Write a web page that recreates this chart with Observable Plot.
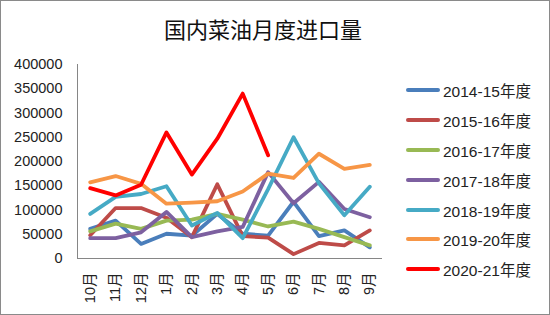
<!DOCTYPE html>
<html>
<head>
<meta charset="utf-8">
<script src="https://cdn.jsdelivr.net/npm/d3@7"></script>
<script src="https://cdn.jsdelivr.net/npm/@observablehq/plot@0.6"></script>
<style>
  html, body { margin: 0; padding: 0; background: #fff; }
  #wrap { position: relative; width: 550px; height: 315px; overflow: hidden; background: #fff; }
  #frame { position: absolute; left: 0; top: 0; width: 550px; height: 315px; box-sizing: border-box; border: 1px solid #8a8a8a; pointer-events: none; }
  #title { position: absolute; left: 0; top: 14px; width: 526px; text-align: center; font-family: "Noto Sans CJK SC", sans-serif; font-size: 22px; line-height: 28px; color: #111; }
  #legend { position: absolute; left: 406px; top: 75px; font-family: "Liberation Sans", "Noto Sans CJK SC", sans-serif; font-size: 15.5px; color: #222; }
  .row { display: flex; align-items: center; height: 29.9px; }
  .sw { width: 34px; height: 4px; border-radius: 2px; margin-right: 3px; }
  #chart { position: absolute; left: 0; top: 0; }
</style>
</head>
<body>
<div id="wrap">
  <div id="chart"></div>
  <div id="title"></div>
  <div id="legend"></div>
  <div id="frame"></div>
</div>
<script>
const titleText = "国内菜油月度进口量";
const months = ["10月","11月","12月","1月","2月","3月","4月","5月","6月","7月","8月","9月"];
const seriesNames = ["2014-15年度","2015-16年度","2016-17年度","2017-18年度","2018-19年度","2019-20年度","2020-21年度"];
const seriesColors = ["#4A7EBB","#BE4B48","#98B954","#7D60A0","#46AAC5","#F79646","#FF0000"];
const yTicks = [0,50000,100000,150000,200000,250000,300000,350000,400000];

const v2014_15 = [61000, 78000, 30000, 51000, 47000, 92000, 51000, 47000, 117000, 46000, 58000, 23000];
const v2015_16 = [48000, 104000, 104000, 84000, 44000, 153000, 46000, 43000, 9000, 32000, 27000, 58000];
const v2016_17 = [56000, 72000, 61000, 78000, 80000, 92000, 80000, 66000, 76000, 61000, 44000, 27000];
const v2017_18 = [42000, 42000, 54000, 96000, 44000, 56000, 65000, 178000, 114000, 158000, 102000, 85000];
const v2018_19 = [92000, 127000, 133000, 149000, 68000, 94000, 42000, 143000, 250000, 155000, 89000, 148000];
const v2019_20 = [157000, 170000, 154000, 113000, 115000, 118000, 138000, 175000, 166000, 216000, 185000, 193000];
const v2020_21 = [145000, 130000, 152000, 260000, 173000, 247000, 340000, 213000];

const allValues = [v2014_15, v2015_16, v2016_17, v2017_18, v2018_19, v2019_20, v2020_21];
const data = [];
allValues.forEach((vals, s) => {
  vals.forEach((v, i) => data.push({series: seriesNames[s], i, value: v}));
});

document.getElementById("title").textContent = titleText;

const axisColor = "#868686";
const font = "'Liberation Sans', 'Noto Sans CJK SC', sans-serif";

const chart = Plot.plot({
  width: 550,
  height: 315,
  marginLeft: 77,
  marginRight: 168,
  marginTop: 64,
  marginBottom: 57,
  style: {fontFamily: font, fontSize: "14.5px", color: "#222", background: "transparent", overflow: "visible"},
  x: {domain: [-0.5, months.length - 0.5]},
  y: {domain: [yTicks[0], yTicks[yTicks.length - 1]]},
  color: {domain: seriesNames, range: seriesColors},
  marks: [
    Plot.ruleY([yTicks[0]], {stroke: axisColor, strokeWidth: 1}),
    Plot.ruleX([-0.5], {stroke: axisColor, strokeWidth: 1}),
    Plot.line(data, {x: "i", y: "value", z: "series", stroke: "series", strokeWidth: 3.8, strokeLinejoin: "round", strokeLinecap: "round"}),
    Plot.axisY({ticks: yTicks, tickFormat: d3.format("d"), tickSize: 0, tickPadding: 15, fontSize: 14.5, label: null, fill: "#222"}),
    Plot.axisX({ticks: d3.range(months.length), tickFormat: i => months[i], tickSize: 0, tickPadding: 14, tickRotate: -90, fontSize: 14.5, label: null, fill: "#222"})
  ]
});
document.getElementById("chart").appendChild(chart);

const legend = document.getElementById("legend");
seriesNames.forEach((name, k) => {
  const row = document.createElement("div");
  row.className = "row";
  const sw = document.createElement("div");
  sw.className = "sw";
  sw.style.background = seriesColors[k];
  const t = document.createElement("span");
  t.textContent = name;
  row.appendChild(sw);
  row.appendChild(t);
  legend.appendChild(row);
});
</script>
</body>
</html>
